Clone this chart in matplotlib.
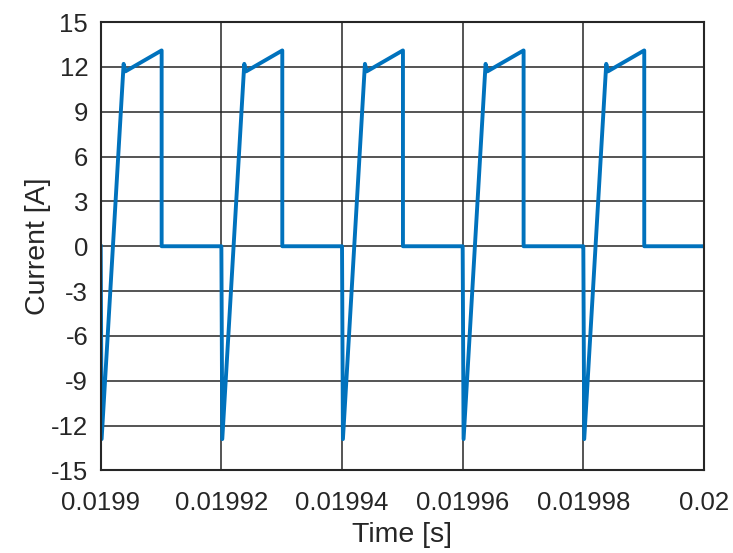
import numpy as np
import matplotlib
matplotlib.use("Agg")
import matplotlib.pyplot as plt

# one switching period, times relative to its start (microseconds)
period_t_us = [0.0, 0.15, 3.8, 4.1, 10.1, 10.1, 20.0]
period_i = [0.0, -12.9, 12.2, 11.7, 13.1, 0.0, 0.0]

# start of each period (s)
period_starts = [0.0199, 0.01992, 0.01994, 0.01996, 0.01998]

x_ticks = [0.0199, 0.01992, 0.01994, 0.01996, 0.01998, 0.02]
x_labels = ["0.0199", "0.01992", "0.01994", "0.01996", "0.01998", "0.02"]
y_ticks = [-15, -12, -9, -6, -3, 0, 3, 6, 9, 12, 15]

t = np.concatenate([s + np.array(period_t_us) * 1e-6 for s in period_starts])
i = np.concatenate([np.array(period_i) for _ in period_starts])

plt.rcParams["font.family"] = ["Liberation Sans", "DejaVu Sans"]
plt.rcParams["axes.unicode_minus"] = False
text_col = "#262626"

fig = plt.figure(figsize=(7.33, 5.53), dpi=100)
ax = fig.add_axes([0.1374, 0.1492, 0.9604 - 0.1374, 0.9602 - 0.1492])

ax.plot(t, i, color="#0072BD", linewidth=2.8)

ax.set_xlim(0.0199, 0.02)
ax.set_ylim(-15, 15)
ax.set_xticks(x_ticks)
ax.set_xticklabels(x_labels)
ax.set_yticks(y_ticks)

ax.grid(True, color="#262626", linewidth=1.1)
ax.tick_params(direction="in", length=0, labelsize=18.5, labelcolor=text_col,
               pad=9)
ax.tick_params(axis="x", pad=15)
for sp in ax.spines.values():
    sp.set_color(text_col)
    sp.set_linewidth(1.5)

ax.set_xlabel("Time [s]", fontsize=20.5, color=text_col, labelpad=5)
ax.set_ylabel("Current [A]", fontsize=20.5, color=text_col, labelpad=0)

fig.savefig("out.png", dpi=100)
